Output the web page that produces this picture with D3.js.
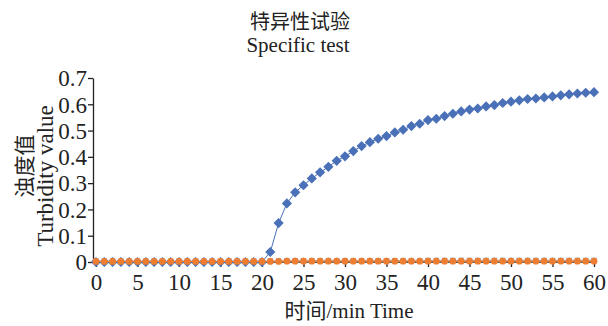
<!DOCTYPE html>
<html><head><meta charset="utf-8">
<script src="https://cdn.jsdelivr.net/npm/d3@7"></script>
<style>body{margin:0;background:#fff}svg{display:block}.sf{font-family:"Liberation Serif","DejaVu Serif",serif}.cj{font-family:"Noto Sans CJK SC",sans-serif}</style>
</head><body>
<svg id="c" width="608" height="326"></svg>
<script>
const times = d3.range(0, 61);
const positive = [0,0,0,0,0,0,0,0,0,0,0,0,0,0,0,0,0,0,0,0,0,
  0.038,0.148,0.223,0.265,0.292,0.318,0.341,0.362,0.385,0.402,
  0.422,0.441,0.456,0.469,0.479,0.493,0.503,0.517,0.526,0.540,
  0.545,0.555,0.564,0.573,0.580,0.584,0.592,0.597,0.605,0.610,
  0.615,0.620,0.622,0.626,0.630,0.634,0.638,0.641,0.644,0.646];
const negA = [0.002,0.002,0.002,0.002,0.002,0.002,0.002,0.002,0.002,0.002,0.002,
  0.002,0.002,0.002,0.002,0.002,0.002,0.002,0.002,0.002,0.002,
  0.002,0.002,0.003,0.003,0.003,0.003,0.003,0.003,0.003,0.003,
  0.003,0.003,0.003,0.003,0.003,0.003,0.003,0.003,0.003,0.003,
  0.003,0.003,0.003,0.003,0.003,0.003,0.003,0.003,0.003,0.003,
  0.003,0.003,0.003,0.003,0.003,0.003,0.003,0.003,0.003,0.003];
const negB = [0.003,0.003,0.003,0.003,0.003,0.003,0.003,0.003,0.003,0.003,0.003,
  0.003,0.003,0.003,0.003,0.003,0.003,0.003,0.003,0.003,0.003,
  0.004,0.004,0.005,0.005,0.005,0.005,0.005,0.005,0.005,0.005,
  0.005,0.005,0.005,0.005,0.005,0.005,0.005,0.005,0.005,0.006,
  0.006,0.006,0.006,0.006,0.006,0.006,0.006,0.006,0.006,0.006,
  0.006,0.006,0.006,0.006,0.006,0.006,0.006,0.006,0.006,0.006];
const negC = [0.002,0.002,0.002,0.002,0.002,0.002,0.002,0.002,0.002,0.002,0.002,
  0.002,0.002,0.002,0.002,0.002,0.002,0.002,0.002,0.002,0.002,
  0.002,0.003,0.004,0.004,0.004,0.004,0.004,0.004,0.004,0.004,
  0.004,0.004,0.004,0.004,0.004,0.004,0.004,0.004,0.004,0.004,
  0.004,0.004,0.004,0.004,0.004,0.004,0.004,0.004,0.004,0.004,
  0.004,0.004,0.004,0.004,0.004,0.004,0.004,0.004,0.004,0.004];
const xTicks = [0,5,10,15,20,25,30,35,40,45,50,55,60];
const yTicks = [0,0.1,0.2,0.3,0.4,0.5,0.6,0.7];
const titleLines = ["特异性试验", "Specific test"];
const yLabelLines = ["浊度值", "Turbidity value"];
const xLabel = ["时间", "/min Time"];

const svg = d3.select("#c");
const x = d3.scaleLinear().domain([0, 60]).range([96, 594]);
const y = d3.scaleLinear().domain([0, 0.7]).range([262, 78]);

// axes
const xAxis = svg.append("g").attr("transform", "translate(0,262)")
  .call(d3.axisBottom(x).tickValues(xTicks).tickSize(5).tickSizeOuter(0).tickFormat(d3.format("d")));
const yAxis = svg.append("g").attr("transform", "translate(93,0)")
  .call(d3.axisLeft(y).tickValues(yTicks).tickSize(5).tickSizeOuter(0).tickFormat(d => d === 0 ? "0" : d3.format(".1f")(d)));
[xAxis, yAxis].forEach(g => {
  g.attr("font-family", null).attr("font-size", null);
  g.selectAll("path,line").attr("stroke", "#222").attr("stroke-width", 1.3);
  g.selectAll("text").attr("fill", "#222").attr("class", "sf").style("font-size", "23px");
});
xAxis.select(".domain").attr("d", `M93,0H${x(60)}`);
xAxis.selectAll("text").attr("dy", "0.85em");
yAxis.selectAll("text").attr("x", -6).attr("dy", "0.34em");

// series
const line = d3.line().x((d, i) => x(times[i])).y(d => y(d));
svg.append("path").datum(positive).attr("d", line).attr("fill", "none").attr("stroke", "#4a70b8").attr("stroke-width", 1);
svg.append("g").selectAll("path").data(positive).join("path")
  .attr("d", d3.symbol(d3.symbolDiamond2, 66))
  .attr("transform", (d, i) => `translate(${x(times[i])},${y(d)})`)
  .attr("fill", "#4a70b8");

svg.append("path").datum(negC).attr("d", line).attr("fill", "none").attr("stroke", "#70ad47").attr("stroke-width", 1);
svg.append("g").selectAll("path").data(negC).join("path")
  .attr("d", d3.symbol(d3.symbolTriangle, 18))
  .attr("transform", (d, i) => `translate(${x(times[i])},${y(d)})`)
  .attr("fill", "#70ad47");

svg.append("path").datum(negB).attr("d", line).attr("fill", "none").attr("stroke", "#9fb0dc").attr("stroke-width", 1);
svg.append("g").selectAll("path").data(negB).join("path")
  .attr("d", d3.symbol(d3.symbolSquare, 30))
  .attr("transform", (d, i) => `translate(${x(times[i])},${y(d)})`)
  .attr("fill", "#9fb0dc");

svg.append("path").datum(negA).attr("d", line).attr("fill", "none").attr("stroke", "#ed7d31").attr("stroke-width", 1);
svg.append("g").selectAll("circle").data(negA).join("circle")
  .attr("cx", (d, i) => x(times[i])).attr("cy", d => y(d)).attr("r", 3.4)
  .attr("fill", "#ed7d31");

// titles
svg.append("text").attr("x", 300).attr("y", 29).attr("text-anchor", "middle").attr("class", "cj")
  .style("font-size", "20px").attr("fill", "#222").text(titleLines[0]);
svg.append("text").attr("x", 298).attr("y", 52).attr("text-anchor", "middle").attr("class", "sf")
  .style("font-size", "21px").attr("fill", "#222").text(titleLines[1]);

svg.append("text").attr("transform", "translate(32,166) rotate(-90)").attr("text-anchor", "middle").attr("class", "cj")
  .style("font-size", "21px").attr("fill", "#222").text(yLabelLines[0]);
svg.append("text").attr("transform", "translate(53,176) rotate(-90)").attr("text-anchor", "middle").attr("class", "sf")
  .style("font-size", "23px").attr("fill", "#222").text(yLabelLines[1]);

svg.append("text").attr("x", 349).attr("y", 318).attr("text-anchor", "middle").attr("class", "sf")
  .style("font-size", "21px").attr("fill", "#222")
  .call(t => {
    t.append("tspan").attr("class", "cj").text(xLabel[0]);
    t.append("tspan").text(xLabel[1]);
  });
</script>
</body></html>
